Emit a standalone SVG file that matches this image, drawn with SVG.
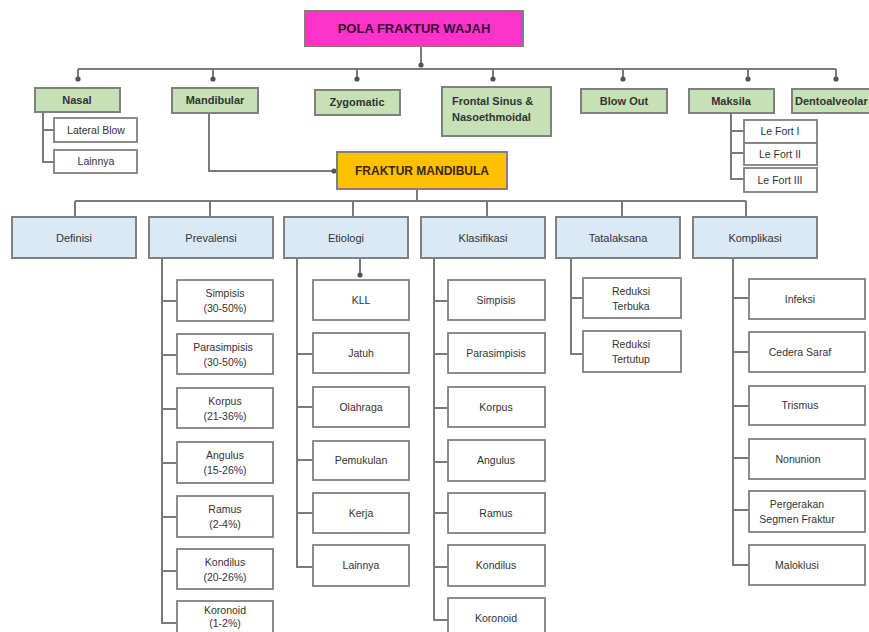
<svg xmlns="http://www.w3.org/2000/svg" width="869" height="632" viewBox="0 0 869 632">
<style>
text{font-family:"Liberation Sans",Arial,sans-serif;fill:#333;}
.g{fill:#c5e1b5;stroke:#808080;stroke-width:2;}
.b{fill:#dae9f6;stroke:#808080;stroke-width:2;}
.w{fill:#fff;stroke:#808080;stroke-width:1.8;}
.gt{font-size:11px;font-weight:bold;text-anchor:middle;}
.bt{font-size:11px;text-anchor:middle;}
.wt{font-size:10.5px;text-anchor:middle;}
.c{fill:none;stroke:#7a7a7a;stroke-width:2;}
</style>
<defs>
<marker id="dot" viewBox="0 0 6 6" refX="3" refY="3" markerWidth="6" markerHeight="6" markerUnits="userSpaceOnUse">
<circle cx="3" cy="3" r="2.6" fill="#555"/>
</marker>
</defs>
<g id="connectors">
<path class="c" d="M421 46V65" marker-end="url(#dot)"/>
<path class="c" d="M78 69H836"/>
<path class="c" d="M78 69V79" marker-end="url(#dot)"/>
<path class="c" d="M213 69V79" marker-end="url(#dot)"/>
<path class="c" d="M357 69V79" marker-end="url(#dot)"/>
<path class="c" d="M493 69V79" marker-end="url(#dot)"/>
<path class="c" d="M623 69V79" marker-end="url(#dot)"/>
<path class="c" d="M748 69V79" marker-end="url(#dot)"/>
<path class="c" d="M836 69V79" marker-end="url(#dot)"/>
<path class="c" d="M43 112V162H54M43 130H54"/>
<path class="c" d="M731 113V179H744M731 131H744M731 153H744"/>
<path class="c" d="M209 113V171H334" marker-end="url(#dot)"/>
<path class="c" d="M417 189V201M75 201H746M75 201V217M210 201V217M353 201V217M487 201V217M622 201V217M746 201V217"/>
<path class="c" d="M162 258V623H177M162 301H177M162 355H177M162 409H177M162 463H177M162 517H177M162 571H177"/>
<path class="c" d="M360 258V275" marker-end="url(#dot)"/>
<path class="c" d="M297 258V567H313M297 354H313M297 407H313M297 460H313M297 513H313"/>
<path class="c" d="M434 258V620H448M434 301H448M434 354H448M434 408H448M434 462H448M434 513H448M434 567H448"/>
<path class="c" d="M571 258V354H583M571 298H583"/>
<path class="c" d="M733 258V565H749M733 298H749M733 352H749M733 406H749M733 458H749M733 510H749"/>
</g>
<g id="pola"><rect x="305" y="11" width="218" height="35" fill="#ff33cc" stroke="#808080" stroke-width="2"/><text x="414" y="33" style="font-size:13px;font-weight:bold;text-anchor:middle;fill:#3b0a30">POLA FRAKTUR WAJAH</text></g>
<g id="nasal"><rect class="g" x="35" y="88" width="85" height="24"/><text class="gt" x="77" y="104">Nasal</text></g>
<g id="mandibular"><rect class="g" x="172" y="88" width="86" height="25"/><text class="gt" x="215" y="104">Mandibular</text></g>
<g id="zygomatic"><rect class="g" x="315" y="90" width="85" height="25"/><text class="gt" x="357" y="106">Zygomatic</text></g>
<g id="frontal"><rect class="g" x="442" y="87" width="109" height="49"/><text class="gt" x="452" y="105" style="text-anchor:start">Frontal Sinus &amp;</text><text class="gt" x="452" y="121" style="text-anchor:start">Nasoethmoidal</text></g>
<g id="blowout"><rect class="g" x="581" y="89" width="86" height="24"/><text class="gt" x="624" y="105">Blow Out</text></g>
<g id="maksila"><rect class="g" x="689" y="89" width="85" height="24"/><text class="gt" x="731" y="105">Maksila</text></g>
<g id="dento"><rect class="g" x="792" y="89" width="85" height="24"/><text class="gt" x="795" y="105" style="text-anchor:start">Dentoalveolar</text></g>
<g id="lateral"><rect class="w" x="54" y="118" width="83" height="24"/><text class="wt" x="96" y="134">Lateral Blow</text></g>
<g id="lainnya1"><rect class="w" x="54" y="150" width="83" height="23"/><text class="wt" x="96" y="165">Lainnya</text></g>
<g id="lefort1"><rect class="w" x="744" y="120" width="73" height="23"/><text class="wt" x="780" y="135">Le Fort I</text></g>
<g id="lefort2"><rect class="w" x="744" y="143" width="73" height="22"/><text class="wt" x="780" y="158">Le Fort II</text></g>
<g id="lefort3"><rect class="w" x="744" y="168" width="73" height="24"/><text class="wt" x="780" y="184">Le Fort III</text></g>
<g id="fraktur"><rect x="337" y="152" width="170" height="37" fill="#ffc000" stroke="#808080" stroke-width="2"/><text x="422" y="175" style="font-size:12px;font-weight:bold;text-anchor:middle;fill:#3a2800">FRAKTUR MANDIBULA</text></g>
<g id="definisi"><rect class="b" x="12" y="217" width="124" height="41"/><text class="bt" x="74" y="242">Definisi</text></g>
<g id="prevalensi"><rect class="b" x="149" y="217" width="124" height="41"/><text class="bt" x="211" y="242">Prevalensi</text></g>
<g id="etiologi"><rect class="b" x="284" y="217" width="124" height="41"/><text class="bt" x="346" y="242">Etiologi</text></g>
<g id="klasifikasi"><rect class="b" x="421" y="217" width="124" height="41"/><text class="bt" x="483" y="242">Klasifikasi</text></g>
<g id="tatalaksana"><rect class="b" x="556" y="217" width="124" height="41"/><text class="bt" x="618" y="242">Tatalaksana</text></g>
<g id="komplikasi"><rect class="b" x="693" y="217" width="124" height="41"/><text class="bt" x="755" y="242">Komplikasi</text></g>
<g id="p1"><rect class="w" x="177" y="280" width="96" height="41"/><text class="wt" x="225" y="297">Simpisis</text><text class="wt" x="225" y="312">(30-50%)</text></g>
<g id="p2"><rect class="w" x="177" y="334" width="96" height="40"/><text class="wt" x="223" y="351">Parasimpisis</text><text class="wt" x="225" y="366">(30-50%)</text></g>
<g id="p3"><rect class="w" x="177" y="388" width="96" height="40"/><text class="wt" x="225" y="405">Korpus</text><text class="wt" x="225" y="420">(21-36%)</text></g>
<g id="p4"><rect class="w" x="177" y="442" width="96" height="41"/><text class="wt" x="225" y="459">Angulus</text><text class="wt" x="225" y="474">(15-26%)</text></g>
<g id="p5"><rect class="w" x="177" y="496" width="96" height="41"/><text class="wt" x="225" y="513">Ramus</text><text class="wt" x="225" y="528">(2-4%)</text></g>
<g id="p6"><rect class="w" x="177" y="549" width="96" height="40"/><text class="wt" x="225" y="566">Kondilus</text><text class="wt" x="225" y="581">(20-26%)</text></g>
<g id="p7"><rect class="w" x="177" y="601" width="96" height="40"/><text class="wt" x="225" y="614">Koronoid</text><text class="wt" x="225" y="627">(1-2%)</text></g>
<g id="e1"><rect class="w" x="313" y="280" width="96" height="40"/><text class="wt" x="361" y="304">KLL</text></g>
<g id="e2"><rect class="w" x="313" y="333" width="96" height="40"/><text class="wt" x="361" y="357">Jatuh</text></g>
<g id="e3"><rect class="w" x="313" y="387" width="96" height="40"/><text class="wt" x="361" y="411">Olahraga</text></g>
<g id="e4"><rect class="w" x="313" y="441" width="96" height="39"/><text class="wt" x="361" y="464">Pemukulan</text></g>
<g id="e5"><rect class="w" x="313" y="493" width="96" height="40"/><text class="wt" x="361" y="517">Kerja</text></g>
<g id="e6"><rect class="w" x="313" y="545" width="96" height="41"/><text class="wt" x="361" y="569">Lainnya</text></g>
<g id="k1"><rect class="w" x="448" y="280" width="97" height="40"/><text class="wt" x="496" y="304">Simpisis</text></g>
<g id="k2"><rect class="w" x="448" y="333" width="97" height="40"/><text class="wt" x="496" y="357">Parasimpisis</text></g>
<g id="k3"><rect class="w" x="448" y="387" width="97" height="40"/><text class="wt" x="496" y="411">Korpus</text></g>
<g id="k4"><rect class="w" x="448" y="440" width="97" height="41"/><text class="wt" x="496" y="464">Angulus</text></g>
<g id="k5"><rect class="w" x="448" y="493" width="97" height="40"/><text class="wt" x="496" y="517">Ramus</text></g>
<g id="k6"><rect class="w" x="448" y="545" width="97" height="41"/><text class="wt" x="496" y="569">Kondilus</text></g>
<g id="k7"><rect class="w" x="448" y="598" width="97" height="40"/><text class="wt" x="496" y="622">Koronoid</text></g>
<g id="t1"><rect class="w" x="583" y="278" width="98" height="40"/><text class="wt" x="631" y="295">Reduksi</text><text class="wt" x="631" y="310">Terbuka</text></g>
<g id="t2"><rect class="w" x="583" y="331" width="98" height="41"/><text class="wt" x="631" y="348">Reduksi</text><text class="wt" x="631" y="363">Tertutup</text></g>
<g id="c1"><rect class="w" x="749" y="279" width="116" height="40"/><text class="wt" x="800" y="303">Infeksi</text></g>
<g id="c2"><rect class="w" x="749" y="332" width="116" height="40"/><text class="wt" x="800" y="356">Cedera Saraf</text></g>
<g id="c3"><rect class="w" x="749" y="386" width="116" height="39"/><text class="wt" x="800" y="409">Trismus</text></g>
<g id="c4"><rect class="w" x="749" y="439" width="116" height="40"/><text class="wt" x="798" y="463">Nonunion</text></g>
<g id="c5"><rect class="w" x="749" y="491" width="116" height="41"/><text class="wt" x="797" y="508">Pergerakan</text><text class="wt" x="797" y="523">Segmen Fraktur</text></g>
<g id="c6"><rect class="w" x="749" y="545" width="116" height="40"/><text class="wt" x="797" y="569">Maloklusi</text></g>
</svg>
